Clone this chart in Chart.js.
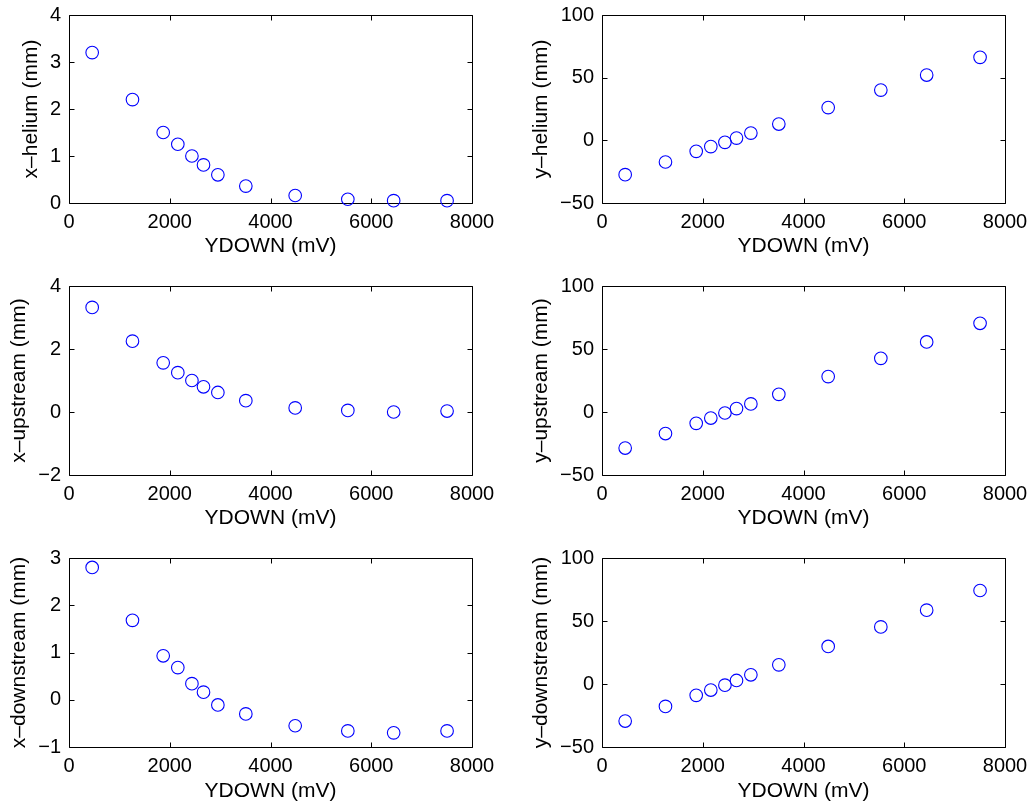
<!DOCTYPE html>
<html>
<head>
<meta charset="utf-8">
<script src="https://cdn.jsdelivr.net/npm/chart.js@4.4.0/dist/chart.umd.min.js"></script>
<style>
  body { margin: 0; background: #fff; }
  #figure { position: relative; width: 1034px; height: 807px; background: #fff; }
  #figure canvas { position: absolute; }
</style>
</head>
<body>
<div id="figure"></div>
<script>
// YDOWN readings shared by all six panels (mV)
const ydown = [460, 1260, 1870, 2160, 2440, 2670, 2955, 3510, 4490, 5535, 6445, 7505];

// beam positions (mm)
const xHelium = [3.2, 2.2, 1.5, 1.25, 1.0, 0.81, 0.6, 0.36, 0.16, 0.08, 0.05, 0.05];
const yHelium = [-27.4, -17.3, -8.8, -5.0, -1.6, 1.8, 5.8, 13, 26.1, 40.1, 52.1, 66.2];
const xUpstream = [3.32, 2.25, 1.56, 1.25, 1.0, 0.8, 0.62, 0.36, 0.13, 0.05, 0.0, 0.03];
const yUpstream = [-28.6, -17.1, -9, -4.8, -0.8, 2.7, 6.4, 14, 28.1, 42.6, 55.6, 70.4];
const xDownstream = [2.8, 1.68, 0.93, 0.68, 0.34, 0.16, -0.11, -0.30, -0.55, -0.66, -0.70, -0.66];
const yDownstream = [-29.4, -17.8, -9, -4.8, -0.9, 2.8, 7.3, 15.2, 29.8, 45.3, 58.6, 74.2];

// tick values
const ydownTicks = [0, 2000, 4000, 6000, 8000];
const xHeliumTicks = [0, 1, 2, 3, 4];
const xUpstreamTicks = [-2, 0, 2, 4];
const xDownstreamTicks = [-1, 0, 1, 2, 3];
const yPosTicks = [-50, 0, 50, 100];

const panels = [
  { label: 'x–helium (mm)', values: xHelium, ticks: xHeliumTicks, col: 0, row: 0, titlePad: 19 },
  { label: 'y–helium (mm)', values: yHelium, ticks: yPosTicks, col: 1, row: 0, titlePad: 9 },
  { label: 'x–upstream (mm)', values: xUpstream, ticks: xUpstreamTicks, col: 0, row: 1, titlePad: 7 },
  { label: 'y–upstream (mm)', values: yUpstream, ticks: yPosTicks, col: 1, row: 1, titlePad: 9 },
  { label: 'x–downstream (mm)', values: xDownstream, ticks: xDownstreamTicks, col: 0, row: 2, titlePad: 7 },
  { label: 'y–downstream (mm)', values: yDownstream, ticks: yPosTicks, col: 1, row: 2, titlePad: 9 }
];

// subplot grid: each cell and the axes box inside it
const cols = [
  { left: 0, width: 520, areaLeft: 69, areaRight: 472 },
  { left: 520, width: 514, areaLeft: 602, areaRight: 1005 }
];
const rows = [
  { top: 0, height: 270, areaTop: 15, areaBottom: 203, titlePad: 10.7 },
  { top: 270, height: 270, areaTop: 286, areaBottom: 475, titlePad: 9.1 },
  { top: 540, height: 267, areaTop: 558, areaBottom: 747, titlePad: 2.7 }
];

const tickFont = { family: '"Liberation Sans", Arial, Helvetica, sans-serif', size: 20 };
const titleFont = { family: '"Liberation Sans", Arial, Helvetica, sans-serif', size: 21 };
const fmt = v => String(v).replace('-', '\u2212');

// axes box with inward tick marks on all four sides
const boxPlugin = {
  id: 'boxPlugin',
  beforeDatasetsDraw(chart) {
    const { ctx, chartArea: a, scales: { x, y } } = chart;
    const len = 5;
    const l = Math.round(a.left) + 0.5, r = Math.round(a.right) + 0.5;
    const t = Math.round(a.top) + 0.5, b = Math.round(a.bottom) + 0.5;
    ctx.save();
    ctx.strokeStyle = '#000';
    ctx.lineWidth = 1;
    ctx.beginPath();
    ctx.rect(l, t, r - l, b - t);
    x.ticks.forEach(tk => {
      const px = Math.round(x.getPixelForValue(tk.value)) + 0.5;
      ctx.moveTo(px, b); ctx.lineTo(px, b - len);
      ctx.moveTo(px, t); ctx.lineTo(px, t + len);
    });
    y.ticks.forEach(tk => {
      const py = Math.round(y.getPixelForValue(tk.value)) + 0.5;
      ctx.moveTo(l, py); ctx.lineTo(l + len, py);
      ctx.moveTo(r, py); ctx.lineTo(r - len, py);
    });
    ctx.stroke();
    ctx.restore();
  }
};

// edge labels may hang outside the box; the fixed cell padding already leaves room
const noEdgePadding = s => {
  s.paddingTop = 0; s.paddingBottom = 0;
  s.paddingLeft = 0; s.paddingRight = 0;
};

const figure = document.getElementById('figure');

panels.forEach(p => {
  const c = cols[p.col], rw = rows[p.row];
  const canvas = document.createElement('canvas');
  canvas.width = c.width;
  canvas.height = rw.height;
  canvas.style.left = c.left + 'px';
  canvas.style.top = rw.top + 'px';
  figure.appendChild(canvas);

  // wanted axes box in canvas coordinates
  const want = {
    left: c.areaLeft - c.left,
    right: c.areaRight - c.left,
    top: rw.areaTop - rw.top,
    bottom: rw.areaBottom - rw.top
  };
  const size = { yWidth: want.left, xHeight: rw.height - want.bottom };

  const chart = new Chart(canvas.getContext('2d'), {
    type: 'scatter',
    data: {
      datasets: [{
        data: ydown.map((v, i) => ({ x: v, y: p.values[i] })),
        pointStyle: 'circle',
        pointRadius: 6.3,
        pointBorderWidth: 1.1,
        pointBorderColor: '#0000ff',
        pointBackgroundColor: 'rgba(0,0,0,0)',
        showLine: false,
        clip: false
      }]
    },
    options: {
      responsive: false,
      animation: false,
      devicePixelRatio: 1,
      layout: {
        padding: { left: 0, top: want.top, right: c.width - want.right, bottom: 0 }
      },
      plugins: { legend: { display: false }, tooltip: { enabled: false } },
      scales: {
        x: {
          type: 'linear',
          min: ydownTicks[0],
          max: ydownTicks[ydownTicks.length - 1],
          grid: { display: false, drawTicks: false },
          border: { display: false },
          afterBuildTicks: s => { s.ticks = ydownTicks.map(v => ({ value: v })); },
          afterFit: s => { s.height = size.xHeight; noEdgePadding(s); },
          ticks: { color: '#000', font: tickFont, padding: 7, maxRotation: 0, minRotation: 0, autoSkip: false, callback: fmt },
          title: { display: true, text: 'YDOWN (mV)', color: '#000', font: titleFont, padding: { top: 0, bottom: rw.titlePad } }
        },
        y: {
          type: 'linear',
          min: p.ticks[0],
          max: p.ticks[p.ticks.length - 1],
          grid: { display: false, drawTicks: false },
          border: { display: false },
          afterBuildTicks: s => { s.ticks = p.ticks.map(v => ({ value: v })); },
          afterFit: s => { s.width = size.yWidth; noEdgePadding(s); },
          ticks: { color: '#000', font: tickFont, padding: 8, autoSkip: false, callback: fmt },
          title: { display: true, text: p.label, color: '#000', font: titleFont, padding: { top: p.titlePad, bottom: 0 } }
        }
      }
    },
    plugins: [boxPlugin]
  });

  // nudge the box back into place if the layout still shifted it
  for (let k = 0; k < 2; k++) {
    const a = chart.chartArea;
    const pad = chart.options.layout.padding;
    pad.top += want.top - a.top;
    pad.right += a.right - want.right;
    size.xHeight += a.bottom - want.bottom;
    size.yWidth += want.left - a.left;
    chart.update();
  }
});
</script>
</body>
</html>
